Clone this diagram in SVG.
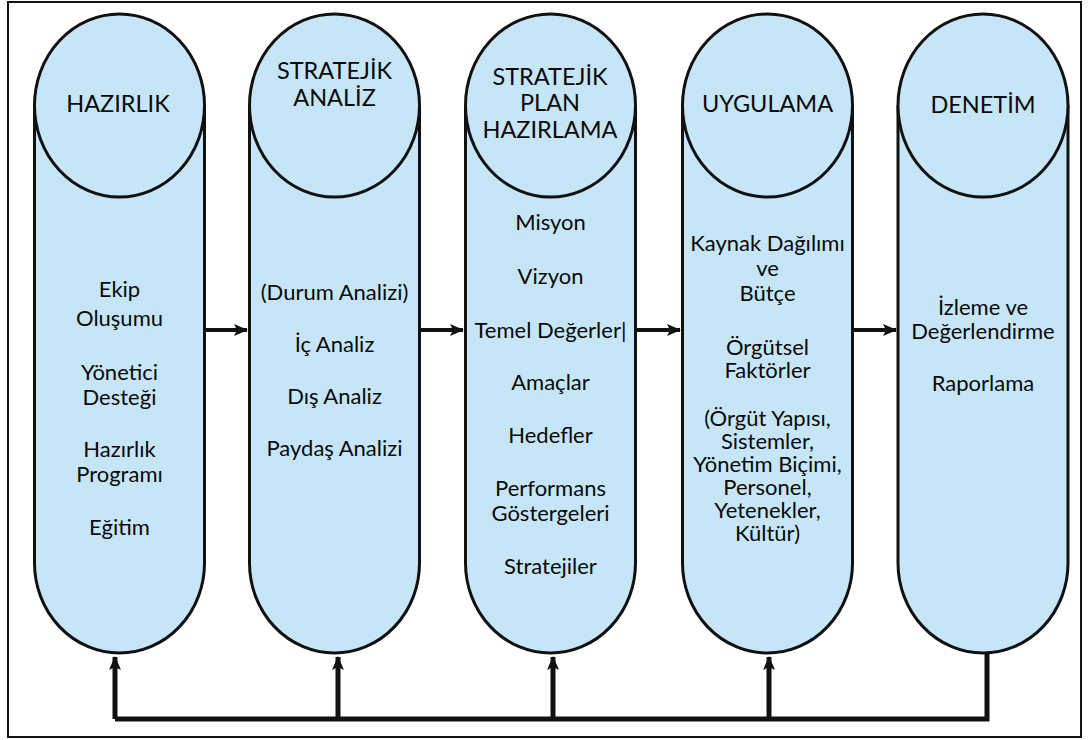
<svg xmlns="http://www.w3.org/2000/svg" width="1089" height="740" viewBox="0 0 1089 740">
<style>
.body{fill:#c6e6f8;stroke:#111;stroke-width:3}
.head{fill:#c6e6f8;stroke:#111;stroke-width:3}
text{font-family:Lato,"Open Sans","Liberation Sans",sans-serif;fill:#0a0a0a;text-anchor:middle}
.h{font-size:23.5px}
.t{font-size:22px}
.conn{fill:none;stroke:#111;stroke-width:4}
.fb{fill:none;stroke:#111;stroke-width:5}
</style>
<defs>
<marker id="ah" viewBox="0 0 14 12" refX="13" refY="6" markerWidth="14" markerHeight="12" markerUnits="userSpaceOnUse" orient="auto">
<path d="M0,0 L14,6 L0,12 L3,6 z" fill="#111"/>
</marker>
</defs>
<rect x="8" y="2" width="1073" height="735" fill="#fff" stroke="#111" stroke-width="2"/>

<g id="col1">
<path class="body" d="M34.5,105 L34.5,563 A85,90 0 0 0 204.5,563 L204.5,105"/>
<ellipse class="head" cx="119.5" cy="105.5" rx="85" ry="91.5"/>
<text class="h" x="118" y="112">HAZIRLIK</text>
<text class="t" x="119.5" y="297">Ekip</text>
<text class="t" x="119.5" y="326">Oluşumu</text>
<text class="t" x="119.5" y="380">Yönetici</text>
<text class="t" x="119.5" y="405">Desteği</text>
<text class="t" x="119.5" y="457">Hazırlık</text>
<text class="t" x="119.5" y="482">Programı</text>
<text class="t" x="119.5" y="535">Eğitim</text>
</g>

<g id="col2">
<path class="body" d="M249.5,105 L249.5,563 A85,90 0 0 0 419.5,563 L419.5,105"/>
<ellipse class="head" cx="334.5" cy="105.5" rx="85" ry="91.5"/>
<text class="h" x="334.5" y="79">STRATEJİK</text>
<text class="h" x="334.5" y="106">ANALİZ</text>
<text class="t" x="334.5" y="300">(Durum Analizi)</text>
<text class="t" x="334.5" y="352">İç Analiz</text>
<text class="t" x="334.5" y="404">Dış Analiz</text>
<text class="t" x="334.5" y="456">Paydaş Analizi</text>
</g>

<g id="col3">
<path class="body" d="M465.5,105 L465.5,563 A85,90 0 0 0 635.5,563 L635.5,105"/>
<ellipse class="head" cx="550.5" cy="105.5" rx="85" ry="91.5"/>
<text class="h" x="550" y="85">STRATEJİK</text>
<text class="h" x="550" y="111">PLAN</text>
<text class="h" x="550" y="138">HAZIRLAMA</text>
<text class="t" x="550.5" y="230">Misyon</text>
<text class="t" x="550.5" y="284">Vizyon</text>
<text class="t" x="550.5" y="338">Temel Değerler|</text>
<text class="t" x="550.5" y="390">Amaçlar</text>
<text class="t" x="550.5" y="443">Hedefler</text>
<text class="t" x="550.5" y="496">Performans</text>
<text class="t" x="550.5" y="521">Göstergeleri</text>
<text class="t" x="550.5" y="574">Stratejiler</text>
</g>

<g id="col4">
<path class="body" d="M682.5,105 L682.5,563 A85,90 0 0 0 852.5,563 L852.5,105"/>
<ellipse class="head" cx="767.5" cy="105.5" rx="85" ry="91.5"/>
<text class="h" x="767.5" y="112">UYGULAMA</text>
<text class="t" x="767.5" y="251">Kaynak Dağılımı</text>
<text class="t" x="767.5" y="276">ve</text>
<text class="t" x="767.5" y="301">Bütçe</text>
<text class="t" x="767.5" y="355">Örgütsel</text>
<text class="t" x="767.5" y="378">Faktörler</text>
<text class="t" x="767.5" y="426">(Örgüt Yapısı,</text>
<text class="t" x="767.5" y="449">Sistemler,</text>
<text class="t" x="767.5" y="472">Yönetim Biçimi,</text>
<text class="t" x="767.5" y="495">Personel,</text>
<text class="t" x="767.5" y="518">Yetenekler,</text>
<text class="t" x="767.5" y="541">Kültür)</text>
</g>

<g id="col5">
<path class="body" d="M898,105 L898,563 A85,90 0 0 0 1068,563 L1068,105"/>
<ellipse class="head" cx="983" cy="105.5" rx="85" ry="91.5"/>
<text class="h" x="983" y="113">DENETİM</text>
<text class="t" x="983" y="315">İzleme ve</text>
<text class="t" x="983" y="339">Değerlendirme</text>
<text class="t" x="983" y="391">Raporlama</text>
</g>

<g id="connectors">
<path class="conn" d="M205,330 H247" marker-end="url(#ah)"/>
<path class="conn" d="M420,330 H463" marker-end="url(#ah)"/>
<path class="conn" d="M636,330 H680" marker-end="url(#ah)"/>
<path class="conn" d="M853,330 H896" marker-end="url(#ah)"/>
<path class="fb" d="M115,719 H987 V653"/>
<path class="fb" d="M115,719 V657" marker-end="url(#ah)"/>
<path class="fb" d="M338,719 V657" marker-end="url(#ah)"/>
<path class="fb" d="M553,719 V657" marker-end="url(#ah)"/>
<path class="fb" d="M769,719 V657" marker-end="url(#ah)"/>
</g>
</svg>
